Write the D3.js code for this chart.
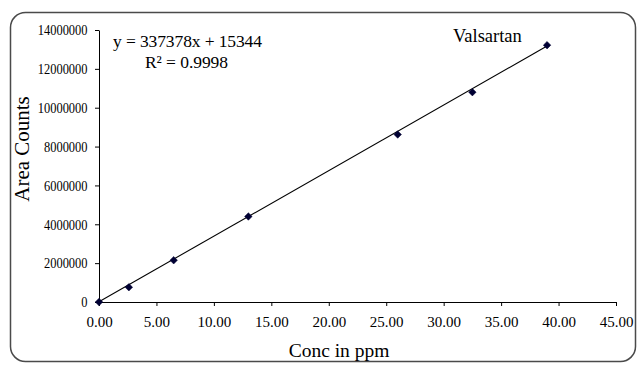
<!DOCTYPE html>
<html>
<head>
<meta charset="utf-8">
<script src="https://cdn.jsdelivr.net/npm/d3@7"></script>
<style>
html,body{margin:0;padding:0;background:#fff;}
svg{display:block;font-family:"Liberation Serif","Times New Roman",serif;}
svg text{font-family:"Liberation Serif","Times New Roman",serif;}
</style>
</head>
<body>
<svg id="chart" width="644" height="369"></svg>
<script>
const conc = [0, 2.6, 6.5, 13, 26, 32.5, 39];
const area = [0, 760000, 2150000, 4400000, 8620000, 10800000, 13220000];
const xTicks = [0, 5, 10, 15, 20, 25, 30, 35, 40, 45];
const yTicks = [0, 2000000, 4000000, 6000000, 8000000, 10000000, 12000000, 14000000];
const fitSlope = 337378;
const fitIntercept = 15344;
const equationText = "y = 337378x + 15344";
const r2Text = "R² = 0.9998";
const seriesName = "Valsartan";
const xTitle = "Conc in ppm";
const yTitle = "Area Counts";

const svg = d3.select("#chart");
svg.append("rect").attr("x", 10.5).attr("y", 12.5).attr("width", 625).attr("height", 349)
  .attr("rx", 15).attr("ry", 15).attr("fill", "#fff").attr("stroke", "#4a4a4a").attr("stroke-width", 1.5);

const x = d3.scaleLinear().domain([0, 45]).range([99, 616]);
const y = d3.scaleLinear().domain([0, 14000000]).range([302, 30]);

const xAxis = svg.append("g").attr("transform", "translate(0,302)")
  .call(d3.axisBottom(x).tickValues(xTicks).tickFormat(d3.format(".2f")).tickSizeOuter(0).tickSizeInner(4).tickPadding(10));
const yAxis = svg.append("g").attr("transform", "translate(99,0)")
  .call(d3.axisLeft(y).tickValues(yTicks).tickFormat(d => String(d)).tickSizeOuter(0).tickSizeInner(4).tickPadding(9));
[xAxis, yAxis].forEach(g => {
  g.attr("font-family", "Liberation Serif").attr("font-size", 15);
  g.selectAll("path.domain").attr("stroke", "#000").attr("stroke-width", 1);
  g.selectAll(".tick line").attr("stroke", "#000");
  g.selectAll("text").attr("fill", "#000");
});
xAxis.selectAll("text").attr("dy", "0.71em");
const ySquash = 0.83;
yAxis.selectAll("text").attr("x", -11.5 / ySquash).attr("transform", `scale(${ySquash},1)`);

// trendline
const xs = d3.extent(conc);
svg.append("line")
  .attr("x1", x(xs[0])).attr("y1", y(fitSlope * xs[0] + fitIntercept))
  .attr("x2", x(xs[1])).attr("y2", y(fitSlope * xs[1] + fitIntercept))
  .attr("stroke", "#000").attr("stroke-width", 1.1);

// markers
svg.append("g").selectAll("path").data(conc.map((c, i) => [c, area[i]])).join("path")
  .attr("transform", d => `translate(${x(d[0])},${y(d[1])})`)
  .attr("d", d3.symbol(d3.symbolDiamond2, 36)())
  .attr("fill", "#000033").attr("stroke", "#000033").attr("stroke-width", 0.5);

svg.append("text").attr("x", 113).attr("y", 47).attr("font-size", 17.5)
  .attr("textLength", 149).attr("lengthAdjust", "spacing").text(equationText);
svg.append("text").attr("x", 145).attr("y", 68).attr("font-size", 17.5)
  .attr("textLength", 83).attr("lengthAdjust", "spacing").text(r2Text);
svg.append("text").attr("x", 453).attr("y", 42).attr("font-size", 18.5).text(seriesName);
svg.append("text").attr("x", 339).attr("y", 357).attr("text-anchor", "middle").attr("font-size", 19.5).text(xTitle);
svg.append("text").attr("transform", "translate(29,149) rotate(-90)").attr("text-anchor", "middle")
  .attr("font-size", 21).text(yTitle);
</script>
</body>
</html>
